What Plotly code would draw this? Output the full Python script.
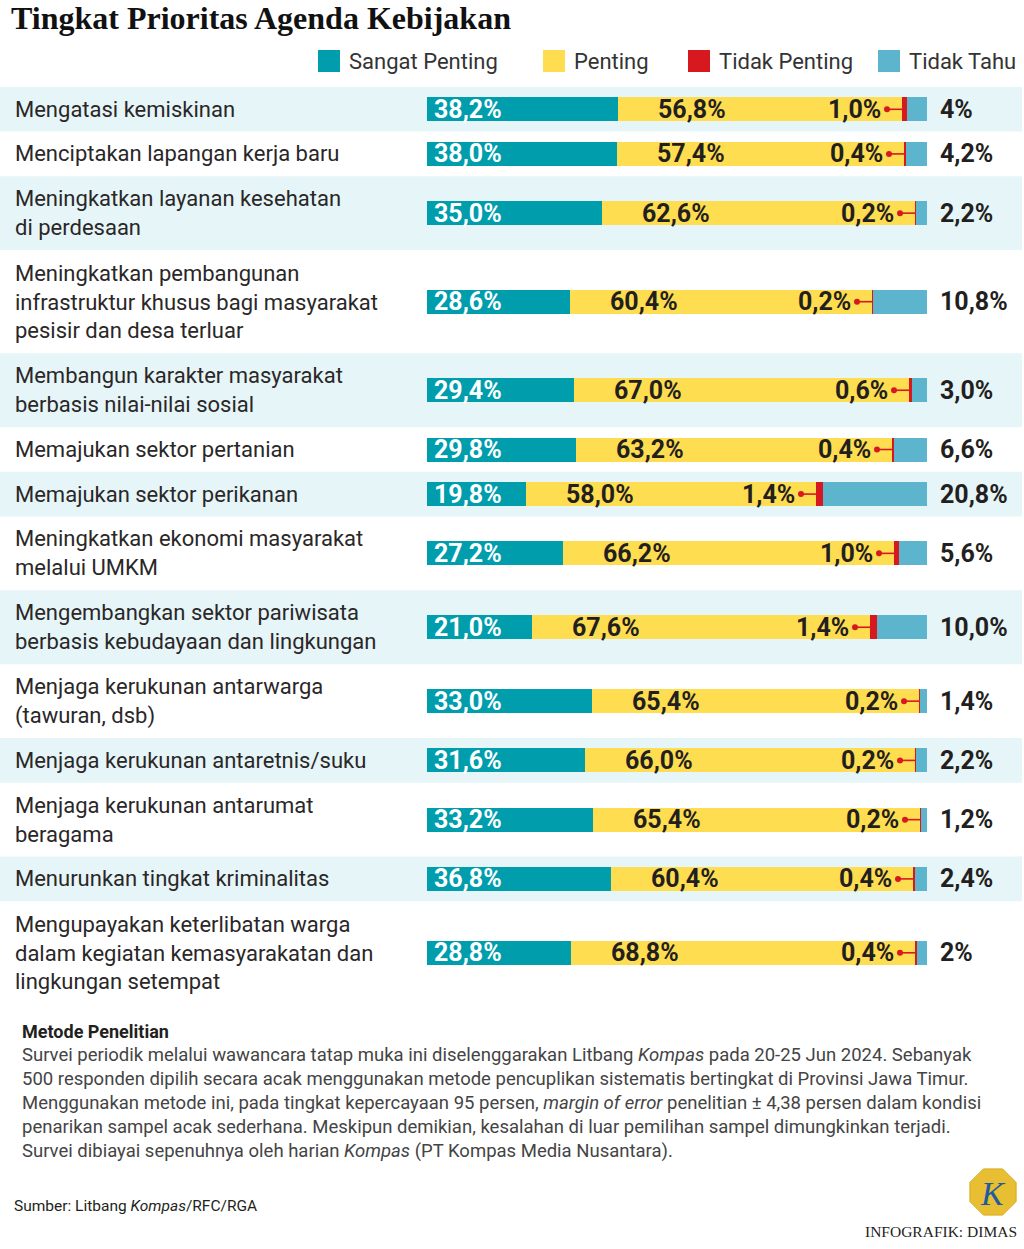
import plotly.graph_objects as go
import math

# ---------------- data ----------------
series_names = ["Sangat Penting", "Penting", "Tidak Penting", "Tidak Tahu"]
labels = [
    "Mengatasi kemiskinan",
    "Menciptakan lapangan kerja baru",
    "Meningkatkan layanan kesehatan<br>di perdesaan",
    "Meningkatkan pembangunan<br>infrastruktur khusus bagi masyarakat<br>pesisir dan desa terluar",
    "Membangun karakter masyarakat<br>berbasis nilai-nilai sosial",
    "Memajukan sektor pertanian",
    "Memajukan sektor perikanan",
    "Meningkatkan ekonomi masyarakat<br>melalui UMKM",
    "Mengembangkan sektor pariwisata<br>berbasis kebudayaan dan lingkungan",
    "Menjaga kerukunan antarwarga<br>(tawuran, dsb)",
    "Menjaga kerukunan antaretnis/suku",
    "Menjaga kerukunan antarumat<br>beragama",
    "Menurunkan tingkat kriminalitas",
    "Mengupayakan keterlibatan warga<br>dalam kegiatan kemasyarakatan dan<br>lingkungan setempat",
]
sangat_penting = [38.2, 38.0, 35.0, 28.6, 29.4, 29.8, 19.8, 27.2, 21.0, 33.0, 31.6, 33.2, 36.8, 28.8]
penting = [56.8, 57.4, 62.6, 60.4, 67.0, 63.2, 58.0, 66.2, 67.6, 65.4, 66.0, 65.4, 60.4, 68.8]
tidak_penting = [1.0, 0.4, 0.2, 0.2, 0.6, 0.4, 1.4, 1.0, 1.4, 0.2, 0.2, 0.2, 0.4, 0.4]
tidak_tahu = [4.0, 4.2, 2.2, 10.8, 3.0, 6.6, 20.8, 5.6, 10.0, 1.4, 2.2, 1.2, 2.4, 2.0]
tidak_tahu_labels = ["4%", "4,2%", "2,2%", "10,8%", "3,0%", "6,6%", "20,8%", "5,6%",
                     "10,0%", "1,4%", "2,2%", "1,2%", "2,4%", "2%"]

# ---------------- styles ----------------
colors = ["#009DAC", "#FFDD50", "#D7191F", "#5DB4CD"]
band_color = "#E6F5F7"
W, H = 1024, 1249
SANS = "Roboto, 'Noto Sans', sans-serif"
SERIF = "'Liberation Serif', 'DejaVu Serif', serif"
BAR_L, BAR_R = 427, 927
TOP = 87


def fmt(v):
    return f"{v:.1f}".replace(".", ",") + "%"


# row geometry computed from number of label lines
n_lines = [lab.count("<br>") + 1 for lab in labels]
row_h = [15.3 + 29.3 * n for n in n_lines]
row_top, row_c = [], []
y = TOP
for h in row_h:
    row_top.append(y)
    row_c.append(y + h / 2)
    y += h

fig = go.Figure()

# stacked bars
vals = [sangat_penting, penting, tidak_penting, tidak_tahu]
for name, v, c in zip(series_names, vals, colors):
    fig.add_trace(go.Bar(
        x=v, y=row_c, orientation="h", width=24, name=name,
        marker=dict(color=c, line=dict(width=0)), showlegend=False,
        hoverinfo="x+name",
    ))

# leader for Tidak Penting
LEAD = 3.0  # data units (5 px per unit)
lx, ly, dx = [], [], []
for s, p, yc in zip(sangat_penting, penting, row_c):
    st = s + p
    lx += [st - LEAD, st, None]
    ly += [yc, yc, None]
    dx.append(st - LEAD)
fig.add_trace(go.Scatter(x=lx, y=ly, mode="lines", line=dict(color=colors[2], width=1.6),
                         showlegend=False, hoverinfo="skip"))
fig.add_trace(go.Scatter(x=dx, y=row_c, mode="markers",
                         marker=dict(color=colors[2], size=6), showlegend=False,
                         hoverinfo="skip"))

shapes = []
ann = []
# background bands
for i, (t, h) in enumerate(zip(row_top, row_h)):
    if i % 2 == 0:
        shapes.append(dict(type="rect", xref="paper", yref="y", x0=0, x1=1022 / W,
                           y0=t, y1=t + h, fillcolor=band_color, line=dict(width=0),
                           layer="below"))

VAL_FONT = 25
for i in range(len(labels)):
    yc = row_c[i]
    ann.append(dict(xref="paper", yref="y", x=13 / W, y=yc, text=labels[i],
                    xanchor="left", yanchor="middle", align="left", showarrow=False,
                    font=dict(family=SANS, size=22, color="#2A2728")))
    ann.append(dict(xref="x", yref="y", x=0, y=yc, xshift=5, text="<b>" + fmt(sangat_penting[i]) + "</b>",
                    xanchor="left", yanchor="middle", showarrow=False,
                    font=dict(family=SANS, size=VAL_FONT, color="white")))
    ann.append(dict(xref="x", yref="y", x=sangat_penting[i] + 14.8, y=yc,
                    text="<b>" + fmt(penting[i]) + "</b>",
                    xanchor="center", yanchor="middle", showarrow=False,
                    font=dict(family=SANS, size=VAL_FONT, color="#231F20")))
    ann.append(dict(xref="x", yref="y", x=sangat_penting[i] + penting[i] - LEAD, xshift=-4, y=yc,
                    text="<b>" + fmt(tidak_penting[i]) + "</b>",
                    xanchor="right", yanchor="middle", showarrow=False,
                    font=dict(family=SANS, size=VAL_FONT, color="#231F20")))
    ann.append(dict(xref="x", yref="y", x=100, xshift=11, y=yc,
                    text="<b>" + tidak_tahu_labels[i] + "</b>",
                    xanchor="left", yanchor="middle", showarrow=False,
                    font=dict(family=SANS, size=VAL_FONT, color="#231F20")))

# title
ann.append(dict(xref="paper", yref="y", x=9 / W, y=18, text="<b>Tingkat Prioritas Agenda Kebijakan</b>",
                xanchor="left", yanchor="middle", showarrow=False,
                font=dict(family=SERIF, size=32, color="#111")))

# legend (manual)
leg_sq = [318, 543, 688, 878]
for name, c, x0 in zip(series_names, colors, leg_sq):
    shapes.append(dict(type="rect", xref="paper", yref="y", x0=x0 / W, x1=(x0 + 22) / W,
                       y0=50, y1=72, fillcolor=c, line=dict(width=0)))
    ann.append(dict(xref="paper", yref="y", x=(x0 + 29) / W, y=61, text=name,
                    xanchor="left", yanchor="middle", showarrow=False,
                    font=dict(family=SANS, size=22, color="#333")))

# method note
ann.append(dict(xref="paper", yref="y", x=20 / W, y=1031, text="<b>Metode Penelitian</b>",
                xanchor="left", yanchor="middle", showarrow=False,
                font=dict(family=SANS, size=18, color="#231F20")))
body = ("Survei periodik melalui wawancara tatap muka ini diselenggarakan Litbang <i>Kompas</i> pada 20-25 Jun 2024. Sebanyak<br>"
        "500 responden dipilih secara acak menggunakan metode pencuplikan sistematis bertingkat di Provinsi Jawa Timur.<br>"
        "Menggunakan metode ini, pada tingkat kepercayaan 95 persen, <i>margin of error</i> penelitian ± 4,38 persen dalam kondisi<br>"
        "penarikan sampel acak sederhana. Meskipun demikian, kesalahan di luar pemilihan sampel dimungkinkan terjadi.<br>"
        "Survei dibiayai sepenuhnya oleh harian <i>Kompas</i> (PT Kompas Media Nusantara).")
ann.append(dict(xref="paper", yref="y", x=20 / W, y=1103, text=body,
                xanchor="left", yanchor="middle", align="left", showarrow=False,
                font=dict(family=SANS, size=18.5, color="#444")))
ann.append(dict(xref="paper", yref="y", x=12 / W, y=1206, text="Sumber: Litbang <i>Kompas</i>/RFC/RGA",
                xanchor="left", yanchor="middle", showarrow=False,
                font=dict(family=SANS, size=15.5, color="#231F20")))
ann.append(dict(xref="paper", yref="y", x=1019 / W, y=1231, text="INFOGRAFIK: DIMAS",
                xanchor="right", yanchor="middle", showarrow=False,
                font=dict(family=SERIF, size=15.5, color="#222")))

# Kompas logo (octagon)
cx, cy, r = 993, 1192, 25
pts = []
for k in range(8):
    a = math.pi / 8 + k * math.pi / 4
    pts.append((cx + r * math.cos(a), cy + r * math.sin(a)))
path = "M " + " L ".join(f"{px / W:.5f},{py:.2f}" for px, py in pts) + " Z"
shapes.append(dict(type="path", xref="paper", yref="y", path=path,
                   fillcolor="#E8BE33", line=dict(color="#D9AC22", width=1)))
ann.append(dict(xref="paper", yref="y", x=cx / W, y=cy + 1, text="<i>K</i>",
                xanchor="center", yanchor="middle", showarrow=False,
                font=dict(family=SERIF, size=34, color="#1E5BA0")))

fig.update_layout(
    width=W, height=H, margin=dict(l=0, r=0, t=0, b=0),
    paper_bgcolor="white", plot_bgcolor="rgba(0,0,0,0)",
    barmode="stack", bargap=0,
    xaxis=dict(domain=[BAR_L / W, BAR_R / W], range=[0, 100], visible=False, fixedrange=True),
    yaxis=dict(domain=[0, 1], range=[H, 0], visible=False, fixedrange=True),
    shapes=shapes, annotations=ann, showlegend=False,
)

fig.write_html("out.html", config={"displayModeBar": False},
               post_script="document.body.style.margin='0';document.body.style.overflow='hidden';")
